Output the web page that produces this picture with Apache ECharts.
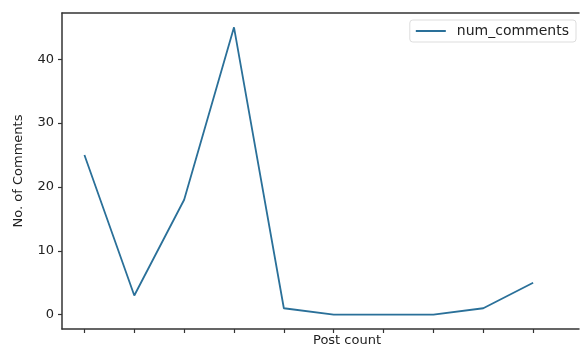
<!DOCTYPE html>
<html>
<head>
<meta charset="utf-8">
<script src="https://cdn.jsdelivr.net/npm/echarts@6/dist/echarts.min.js"></script>
<style>html,body{margin:0;padding:0;background:#fff}#c{width:580px;height:347px}</style>
</head>
<body>
<div id="c"></div>
<script>
const postIndex = [0, 1, 2, 3, 4, 5, 6, 7, 8, 9];
const numComments = [25, 3, 18, 45, 1, 0, 0, 0, 1, 5];
const yTicks = [0, 10, 20, 30, 40];

const chart = echarts.init(document.getElementById('c'), null, {renderer: 'canvas'});
const txt = '#222';
const spine = '#333';
chart.setOption({
  animation: false,
  backgroundColor: '#fff',
  textStyle: {fontFamily: 'DejaVu Sans'},
  grid: {left: 62, right: 1, top: 13, bottom: 18, containLabel: false},
  legend: {
    show: true,
    data: ['num_comments'],
    right: 4, top: 20,
    orient: 'vertical',
    padding: [4, 7, 4, 6],
    borderColor: '#ddd', borderWidth: 1, borderRadius: 3,
    backgroundColor: '#fff',
    itemWidth: 30, itemHeight: 2, itemGap: 4,
    icon: 'rect',
    textStyle: {fontFamily: 'DejaVu Sans', fontSize: 14, color: txt, padding: [0, 0, 0, 6]}
  },
  graphic: [{
    type: 'text', left: 313, top: 334,
    style: {text: 'Post count', font: '13px "DejaVu Sans"', fill: txt, align: 'center', verticalAlign: 'top'}
  }],
  xAxis: [{
    type: 'value', min: -0.45, max: 9.92,
    splitLine: {show: false},
    axisLine: {show: true, onZero: false, lineStyle: {color: spine, width: 1.5}},
    axisTick: {show: true, length: 4, customValues: postIndex, lineStyle: {color: spine, width: 1.2}},
    axisLabel: {show: false}
  }, {
    type: 'value', position: 'top', min: -0.45, max: 9.92,
    splitLine: {show: false},
    axisLine: {show: true, onZero: false, lineStyle: {color: spine, width: 1.5}},
    axisTick: {show: false}, axisLabel: {show: false}
  }],
  yAxis: {
    type: 'value', min: -2.25, max: 47.25,
    splitLine: {show: false},
    axisLine: {show: true, onZero: false, lineStyle: {color: spine, width: 1.5}},
    axisTick: {show: true, length: 4, customValues: yTicks, lineStyle: {color: spine, width: 1.2}},
    axisLabel: {show: true, customValues: yTicks, margin: 8, fontFamily: 'DejaVu Sans', fontSize: 13, color: txt},
    name: 'No. of Comments', nameLocation: 'middle', nameGap: 37, nameRotate: 90,
    nameTextStyle: {fontFamily: 'DejaVu Sans', fontSize: 13, color: txt}
  },
  series: [{
    name: 'num_comments',
    type: 'line',
    xAxisIndex: 0,
    data: postIndex.map((x, i) => [x, numComments[i]]),
    showSymbol: false,
    lineStyle: {color: '#2a7099', width: 1.8},
    itemStyle: {color: '#2a7099'}
  }]
});
</script>
</body>
</html>
